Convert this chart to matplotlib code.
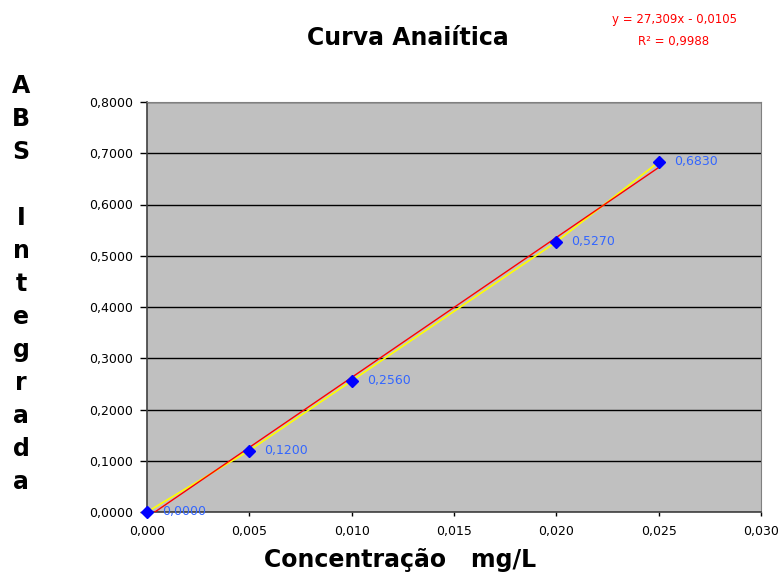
import matplotlib
matplotlib.use("Agg")
import matplotlib.pyplot as plt
import numpy as np
from matplotlib.ticker import FuncFormatter

plt.rcParams['font.family'] = ['DejaVu Sans']

# Calibration data
conc = [0.000, 0.005, 0.010, 0.020, 0.025]
absorb = [0.0000, 0.1200, 0.2560, 0.5270, 0.6830]
point_labels = ["0,0000", "0,1200", "0,2560", "0,5270", "0,6830"]

slope = 27.309
intercept = -0.0105
equation_text = "y = 27,309x - 0,0105"
r2_text = "R² = 0,9988"

x_ticks = [0.000, 0.005, 0.010, 0.015, 0.020, 0.025, 0.030]
y_ticks = [0.0, 0.1, 0.2, 0.3, 0.4, 0.5, 0.6, 0.7, 0.8]

title = "Curva Anaiítica"
x_label = "Concentração   mg/L"
y_label_letters = ["A", "B", "S", "", "I", "n", "t", "e", "g", "r", "a", "d", "a"]

fig = plt.figure(figsize=(7.81, 5.74), dpi=100)
ax = fig.add_axes([147 / 781, 62 / 574, 614 / 781, 410 / 574])
ax.set_facecolor("#C0C0C0")

ax.set_xlim(0, 0.030)
ax.set_ylim(0, 0.8)
ax.set_xticks(x_ticks)
ax.set_yticks(y_ticks)
ax.xaxis.set_major_formatter(FuncFormatter(lambda v, p: f"{v:.3f}".replace(".", ",")))
ax.yaxis.set_major_formatter(FuncFormatter(lambda v, p: f"{v:.4f}".replace(".", ",")))
ax.tick_params(axis="both", labelsize=9, direction="out", width=1, color="#000000")
ax.tick_params(axis="x", length=3, pad=6)
ax.tick_params(axis="y", length=5, pad=5)

ax.grid(axis="y", color="black", linewidth=1.0)
ax.set_axisbelow(True)
for side in ("top", "right"):
    ax.spines[side].set_color("#808080")
for side in ("left", "bottom"):
    ax.spines[side].set_color("#404040")
    ax.spines[side].set_linewidth(1.2)

# Series line and linear trendline
ax.plot(conc, absorb, color="#FFFF00", linewidth=1.2, zorder=3)
xt = np.array([conc[0], conc[-1]])
ax.plot(xt, slope * xt + intercept, color="#FF0000", linewidth=1.0, zorder=4)
ax.plot(conc, absorb, linestyle="none", marker="D", markersize=6.5,
        color="#0000FF", zorder=5, clip_on=False)

for xv, yv, lab in zip(conc, absorb, point_labels):
    ax.annotate(lab, (xv, yv), xytext=(11, 0), textcoords="offset points",
                fontsize=9, color="#3366FF", va="center", ha="left", zorder=6)

fig.text(408 / 781, 1 - 38 / 574, title, fontsize=17, fontweight="bold",
         ha="center", va="center")
fig.text(674 / 781, 1 - 19 / 574, equation_text, fontsize=8.5, color="#FF0000",
         ha="center", va="center")
fig.text(674 / 781, 1 - 42 / 574, r2_text, fontsize=8.5, color="#FF0000",
         ha="center", va="center")
fig.text(400 / 781, 1 - 560 / 574, x_label, fontsize=17, fontweight="bold",
         ha="center", va="center")

top_px = 86
step_px = 33
for i, ch in enumerate(y_label_letters):
    if ch:
        fig.text(21 / 781, 1 - (top_px + i * step_px) / 574, ch, fontsize=17,
                 fontweight="bold", ha="center", va="center")

fig.savefig("out.png", dpi=100)
